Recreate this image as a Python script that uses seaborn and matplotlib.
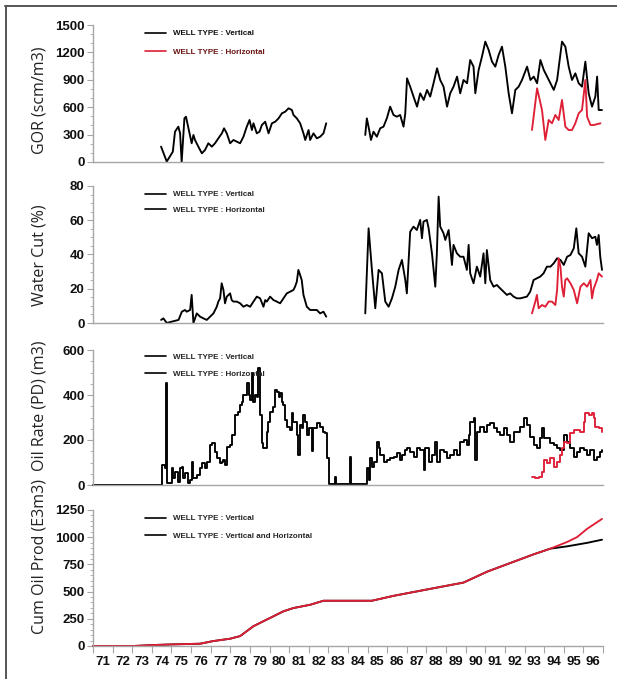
import matplotlib
matplotlib.use("Agg")
import matplotlib.pyplot as plt
from matplotlib.lines import Line2D
from matplotlib.ticker import MultipleLocator
import seaborn as sns

# ---------------------------------------------------------------- data ----
year_ticks = list(range(71, 98))
year_labels = [str(y) for y in range(71, 97)]
year_label_pos = [y + 0.5 for y in range(71, 97)]

# GOR (scm/m3), vertical wells: two producing periods
gor_v_years_a = [74.47, 74.76, 75.07, 75.18, 75.35, 75.44, 75.52, 75.66, 75.74, 76.03, 76.12,
                 76.20, 76.37, 76.55, 76.71, 76.88, 77.06, 77.22, 77.39, 77.57, 77.68, 77.82,
                 77.99, 78.16, 78.33, 78.50, 78.67, 78.84, 78.98, 79.10, 79.18, 79.35, 79.49,
                 79.61, 79.78, 79.95, 80.12, 80.29, 80.46, 80.63, 80.80, 80.97, 81.14, 81.22,
                 81.39, 81.56, 81.73, 81.82, 81.99, 82.07, 82.24, 82.41, 82.58, 82.75, 82.89]
gor_v_a = [168, 5, 113, 332, 387, 314, 0, 478, 496, 205, 296,
           241, 168, 95, 131, 205, 168, 205, 259, 314, 369, 314,
           205, 241, 223, 205, 277, 387, 460, 350, 424, 314, 332,
           405, 441, 314, 424, 441, 478, 533, 551, 588, 569, 515,
           478, 424, 314, 241, 350, 241, 314, 259, 277, 314, 424]
gor_v_years_b = [84.88, 84.96, 85.08, 85.17, 85.30, 85.47, 85.64, 85.81, 85.98, 86.15, 86.32,
                 86.49, 86.66, 86.83, 86.92, 87.01, 87.17, 87.34, 87.52, 87.68, 87.86, 88.03,
                 88.19, 88.36, 88.54, 88.70, 88.87, 89.05, 89.21, 89.38, 89.56, 89.72, 89.89,
                 90.07, 90.23, 90.40, 90.49, 90.66, 90.83, 91.00, 91.17, 91.34, 91.51, 91.68,
                 91.85, 92.02, 92.19, 92.36, 92.53, 92.70, 92.87, 93.13, 93.30, 93.47, 93.64,
                 93.81, 93.98, 94.15, 94.32, 94.49, 94.66, 94.91, 95.08, 95.25, 95.42, 95.59,
                 95.76, 95.93, 96.10, 96.27, 96.44, 96.61, 96.70, 96.78, 96.95]
gor_v_b = [296, 478, 350, 241, 332, 277, 369, 387, 478, 606, 515,
           496, 515, 387, 533, 916, 825, 716, 606, 752, 679, 789,
           716, 862, 1026, 898, 825, 606, 752, 825, 935, 752, 898,
           862, 1117, 1044, 752, 1008, 1154, 1318, 1227, 1099, 1044, 1172,
           1263, 1044, 752, 533, 789, 825, 898, 1044, 898, 935, 862,
           1117, 1008, 935, 862, 789, 898, 1318, 1263, 1044, 898, 971,
           862, 825, 1099, 752, 606, 716, 935, 569, 569]
# GOR (scm/m3), horizontal wells
gor_h_years = [93.38, 93.64, 93.89, 94.06, 94.23, 94.40, 94.57, 94.74, 94.91, 95.08,
               95.25, 95.42, 95.59, 95.76, 95.93, 96.10, 96.19, 96.36, 96.53, 96.87]
gor_h = [350, 807, 569, 241, 460, 424, 515, 460, 679, 387,
         350, 350, 424, 533, 569, 898, 496, 405, 405, 424]

# Water cut (%), vertical wells
wc_v_years_a = [74.47, 74.59, 74.71, 74.76, 75.02, 75.36, 75.53, 75.69, 75.78, 75.95, 76.03,
                76.12, 76.29, 76.46, 76.63, 76.80, 76.97, 77.14, 77.31, 77.39, 77.48, 77.56,
                77.65, 77.73, 77.82, 77.99, 78.07, 78.16, 78.33, 78.50, 78.67, 78.84, 79.01,
                79.18, 79.35, 79.52, 79.69, 79.78, 79.86, 80.03, 80.20, 80.37, 80.54, 80.71,
                80.88, 81.05, 81.22, 81.30, 81.39, 81.47, 81.56, 81.64, 81.73, 81.90, 82.07,
                82.24, 82.41, 82.58, 82.75, 82.89]
wc_v_a = [1.8, 2.7, 0.8, 0.0, 0.8, 1.8, 6.6, 7.6, 6.6, 7.6, 16.4,
          0.0, 5.6, 3.7, 2.7, 1.8, 3.7, 5.6, 9.5, 12.5, 14.4, 23.2,
          19.3, 11.5, 15.4, 17.3, 13.4, 12.5, 12.5, 11.5, 9.5, 10.5, 9.5,
          12.5, 15.4, 14.4, 9.5, 13.4, 12.5, 15.4, 13.4, 12.5, 11.5, 14.4,
          17.3, 18.3, 19.3, 21.2, 24.1, 31.0, 28.0, 25.1, 16.4, 9.5, 7.6,
          7.6, 7.6, 5.6, 6.6, 3.7]
wc_v_years_b = [84.88, 85.05, 85.22, 85.39, 85.56, 85.73, 85.90, 86.07, 86.24, 86.41, 86.58,
                86.75, 86.92, 87.00, 87.17, 87.34, 87.51, 87.68, 87.77, 87.85, 88.02, 88.11,
                88.28, 88.45, 88.53, 88.62, 88.70, 88.87, 88.96, 89.13, 89.30, 89.38, 89.55,
                89.72, 89.89, 90.06, 90.15, 90.23, 90.40, 90.57, 90.74, 90.91, 91.00, 91.08,
                91.25, 91.42, 91.59, 91.76, 91.93, 92.10, 92.27, 92.44, 92.61, 92.78, 93.12,
                93.29, 93.46, 93.63, 93.80, 93.97, 94.14, 94.32, 94.49, 94.66, 94.83, 95.00,
                95.17, 95.34, 95.51, 95.64, 95.76, 95.93, 96.10, 96.27, 96.44, 96.61, 96.69,
                96.78, 96.86, 96.95]
wc_v_b = [5.6, 55.3, 31.0, 8.6, 31.0, 29.0, 12.5, 9.5, 14.4, 21.2, 31.0,
          36.8, 25.1, 17.3, 53.3, 56.3, 54.3, 60.2, 49.5, 59.2, 60.2, 55.3,
          40.7, 21.2, 40.7, 73.8, 56.3, 52.4, 48.5, 54.3, 33.9, 45.6, 40.7,
          38.7, 38.7, 31.0, 45.6, 29.0, 23.2, 32.9, 27.1, 40.7, 23.2, 42.6,
          25.1, 21.2, 22.2, 20.2, 18.3, 16.4, 17.3, 15.4, 14.4, 14.4, 15.4,
          18.3, 25.1, 26.1, 27.1, 29.0, 32.9, 32.9, 34.9, 37.8, 36.8, 33.9,
          38.7, 39.7, 43.6, 55.3, 40.7, 38.7, 32.9, 52.4, 49.5, 50.4, 45.6,
          51.4, 38.7, 31.0]
# Water cut (%), horizontal wells
wc_h_years = [93.38, 93.55, 93.63, 93.72, 93.89, 94.06, 94.23, 94.40, 94.57, 94.66,
              94.74, 94.83, 94.91, 95.00, 95.08, 95.17, 95.34, 95.51, 95.68, 95.85,
              96.02, 96.19, 96.36, 96.44, 96.53, 96.69, 96.78, 96.95]
wc_h = [5.6, 12.5, 16.4, 8.6, 10.5, 9.5, 12.5, 12.5, 10.5, 19.3,
        37.8, 32.9, 21.2, 15.4, 25.1, 26.1, 23.2, 19.3, 11.5, 21.2,
        23.2, 21.2, 25.1, 14.4, 20.2, 25.1, 29.0, 27.1]

# Oil rate per day (m3), vertical wells (monthly steps)
oil_v_years = [71.00, 74.50, 74.67, 74.74, 74.78, 75.01, 75.10, 75.18, 75.35, 75.44, 75.53,
               75.61, 75.69, 75.86, 75.95, 76.04, 76.12, 76.29, 76.46, 76.55, 76.71, 76.80,
               76.97, 77.06, 77.22, 77.31, 77.48, 77.56, 77.65, 77.73, 77.82, 77.99, 78.08,
               78.24, 78.41, 78.50, 78.59, 78.67, 78.84, 78.93, 79.01, 79.10, 79.18, 79.27,
               79.35, 79.43, 79.52, 79.61, 79.69, 79.86, 79.94, 80.03, 80.20, 80.29, 80.37,
               80.46, 80.54, 80.63, 80.71, 80.80, 80.88, 81.05, 81.14, 81.22, 81.39, 81.47,
               81.56, 81.64, 81.73, 81.82, 81.90, 81.99, 82.16, 82.24, 82.41, 82.58, 82.75,
               82.84, 82.92, 83.01, 83.35, 83.40, 84.11, 84.16, 84.96, 85.05, 85.13, 85.22,
               85.30, 85.47, 85.56, 85.64, 85.81, 85.98, 86.15, 86.32, 86.49, 86.66, 86.75,
               86.92, 87.00, 87.17, 87.34, 87.52, 87.68, 87.86, 87.94, 88.11, 88.28, 88.45,
               88.53, 88.70, 88.87, 89.04, 89.21, 89.38, 89.56, 89.72, 89.89, 90.06, 90.15,
               90.23, 90.40, 90.49, 90.57, 90.74, 90.91, 91.08, 91.26, 91.42, 91.59, 91.76,
               91.93, 92.10, 92.27, 92.44, 92.62, 92.79, 92.96, 93.12, 93.30, 93.47, 93.64,
               93.81, 93.89, 93.98, 94.15, 94.32, 94.49, 94.66, 94.83, 95.00, 95.17, 95.34,
               95.51, 95.68, 95.85, 96.01, 96.19, 96.36, 96.53, 96.70, 96.87, 96.95]
oil_v = [0, 89, 74, 452, 7, 74, 30, 59, 15, 74, 81,
         30, 52, 7, 22, 104, 30, 44, 74, 96, 74, 104,
         178, 185, 148, 119, 96, 104, 111, 89, 170, 178, 222,
         311, 326, 356, 370, 400, 452, 400, 378, 496, 370, 400,
         393, 519, 311, 185, 163, 237, 281, 326, 348, 422, 415,
         393, 407, 370, 356, 289, 259, 244, 319, 281, 222, 133,
         267, 252, 311, 281, 222, 252, 150, 252, 274, 259, 237,
         230, 119, 5, 37, 5, 126, 5, 74, 22, 119, 81,
         104, 193, 163, 133, 104, 111, 119, 126, 141, 111, 133,
         156, 163, 148, 126, 163, 156, 67, 163, 104, 133, 193,
         104, 156, 148, 119, 133, 156, 133, 193, 200, 178, 222,
         281, 296, 111, 237, 259, 237, 267, 274, 252, 237, 222,
         252, 222, 193, 237, 237, 259, 296, 267, 215, 178, 163,
         207, 252, 207, 207, 185, 178, 163, 156, 222, 193, 163,
         126, 148, 163, 156, 133, 156, 111, 126, 148, 156]
# Oil rate per day (m3), horizontal wells
oil_h_years = [93.38, 93.55, 93.72, 93.89, 93.98, 94.15, 94.32, 94.49, 94.66, 94.83,
               94.91, 95.00, 95.17, 95.34, 95.51, 95.68, 95.85, 96.01, 96.10, 96.27,
               96.44, 96.53, 96.61, 96.78, 96.95]
oil_h = [37, 30, 37, 59, 111, 96, 119, 81, 104, 133,
         163, 193, 185, 230, 244, 244, 237, 281, 319, 311,
         319, 296, 259, 252, 237]

# Cumulative oil production (E3m3)
cum_years = [71.00, 73.06, 74.08, 75.10, 76.46, 77.12, 77.99, 78.50, 79.18, 79.69, 80.03,
             80.71, 81.22, 82.07, 82.75, 83.94, 85.22, 86.32, 88.36, 89.89, 91.09, 92.44,
             93.47, 94.32, 95.17, 95.68, 96.19, 96.95]
cum_vertical = [0, 0, 9, 15, 21, 45, 67, 91, 182, 228, 258,
                319, 349, 379, 416, 416, 416, 461, 531, 583, 683, 774,
                843, 895, 916, 932, 948, 977]
cum_vert_horiz = [0, 0, 9, 15, 21, 45, 67, 91, 182, 228, 258,
                  319, 349, 379, 416, 416, 416, 461, 531, 583, 683, 774,
                  843, 895, 956, 1001, 1077, 1168]

gor_ticks = [0, 300, 600, 900, 1200, 1500]
wc_ticks = [0, 20, 40, 60, 80]
oil_ticks = [0, 200, 400, 600]
cum_ticks = [0, 250, 500, 750, 1000, 1250]

# --------------------------------------------------------------- style ----
sns.set_style("white")
plt.rcParams["font.family"] = ["DejaVu Sans"]

NARROW = ["Liberation Sans Narrow", "DejaVu Sans Condensed", "Liberation Sans"]
LABEL_FONT = ["Open Sans", "DejaVu Sans"]
RED = "#de1f36"
AXIS_GREY = "#a6a6a6"
LW = 1.35

W, H = 617, 679
fig = plt.figure(figsize=(W / 100, H / 100), dpi=100)


def px_axes(top, bottom, left=93, right=603):
    return fig.add_axes([left / W, 1 - bottom / H, (right - left) / W, (bottom - top) / H])


ax_gor = px_axes(25, 162)
ax_wc = px_axes(186, 323)
ax_oil = px_axes(350, 485)
ax_cum = px_axes(510, 646)


def style(ax, ticks, minor, show_x):
    ax.set_xlim(71, 97)
    ax.set_ylim(ticks[0], ticks[-1])
    for side in ("top", "right"):
        ax.spines[side].set_visible(False)
    for side in ("left", "bottom"):
        ax.spines[side].set_color(AXIS_GREY)
        ax.spines[side].set_linewidth(1.0)
    ax.set_yticks(ticks, labels=[str(t) for t in ticks],
                  fontfamily=NARROW, fontweight="bold", fontsize=9.5)
    ax.yaxis.set_minor_locator(MultipleLocator(minor))
    ax.tick_params(axis="y", which="major", length=4, width=0.8, color=AXIS_GREY,
                   pad=2, left=True, labelcolor="#111111")
    ax.tick_params(axis="y", which="minor", length=2, width=0.6, color=AXIS_GREY, left=True)
    if show_x:
        ax.set_xticks(year_label_pos, labels=year_labels,
                      fontfamily=NARROW, fontweight="bold", fontsize=9.5)
        ax.set_xticks(year_ticks, minor=True)
        ax.tick_params(axis="x", which="major", length=0, pad=7, labelcolor="#111111")
        ax.tick_params(axis="x", which="minor", length=5, width=0.8,
                       color=AXIS_GREY, bottom=True)
    else:
        ax.set_xticks([])
    ax.set_xlabel("")
    ax.set_ylabel("")


def legend(ax, labels, colors, anchor, spacing, text_colors=None):
    handles = [Line2D([], [], color=c, lw=1.2) for c in colors]
    leg = ax.legend(handles, labels, loc="upper left", bbox_to_anchor=anchor,
                    frameon=False, borderpad=0, borderaxespad=0,
                    handlelength=2.6, handletextpad=0.9, labelspacing=spacing,
                    prop=dict(family=NARROW, weight="bold", size=5.8))
    if text_colors:
        for t, c in zip(leg.get_texts(), text_colors):
            t.set_color(c)


def line(ax, x, y, color, steps=False):
    kw = dict(drawstyle="steps-post") if steps else {}
    sns.lineplot(x=x, y=y, ax=ax, color=color, lw=LW, estimator=None, sort=False,
                 clip_on=False, **kw)


# GOR
line(ax_gor, gor_v_years_a, gor_v_a, "black")
line(ax_gor, gor_v_years_b, gor_v_b, "black")
line(ax_gor, gor_h_years, gor_h, RED)
style(ax_gor, gor_ticks, 100, False)
legend(ax_gor, ["WELL TYPE : Vertical", "WELL TYPE : Horizontal"], ["black", RED],
       (0.102, 0.965), 1.3, ["#111111", "#6a1414"])

# Water cut
line(ax_wc, wc_v_years_a, wc_v_a, "black")
line(ax_wc, wc_v_years_b, wc_v_b, "black")
line(ax_wc, wc_h_years, wc_h, RED)
style(ax_wc, wc_ticks, 5, False)
legend(ax_wc, ["WELL TYPE : Vertical", "WELL TYPE : Horizontal"], ["black", "black"],
       (0.102, 0.965), 1.0)

# Oil rate
line(ax_oil, oil_v_years, oil_v, "black", steps=True)
line(ax_oil, oil_h_years, oil_h, RED, steps=True)
style(ax_oil, oil_ticks, 50, False)
legend(ax_oil, ["WELL TYPE : Vertical", "WELL TYPE : Horizontal"], ["black", "black"],
       (0.102, 0.975), 1.1)

# Cumulative oil
line(ax_cum, cum_years, cum_vertical, "black")
line(ax_cum, cum_years, cum_vert_horiz, RED)
style(ax_cum, cum_ticks, 50, True)
legend(ax_cum, ["WELL TYPE : Vertical", "WELL TYPE : Vertical and Horizontal"],
       ["black", "black"], (0.102, 0.965), 1.2)

# Rotated axis titles
for text, cy in [("GOR (scm/m3)", 100), ("Water Cut (%)", 255),
                 ("Oil Rate (PD) (m3)", 406), ("Cum Oil Prod (E3m3)", 556)]:
    fig.text(40 / W, 1 - cy / H, text, rotation=90, ha="center", va="center",
             fontsize=11.5, family=LABEL_FONT, color="#222222")

# Page frame (top and left edges)
fig.add_artist(Line2D([5 / W, 1.0], [1 - 6 / H, 1 - 6 / H], transform=fig.transFigure,
                      color="#555555", lw=1.4))
fig.add_artist(Line2D([6 / W, 6 / W], [0.0, 1 - 6 / H], transform=fig.transFigure,
                      color="#555555", lw=1.4))

fig.savefig("out.png", dpi=100, facecolor="white")
